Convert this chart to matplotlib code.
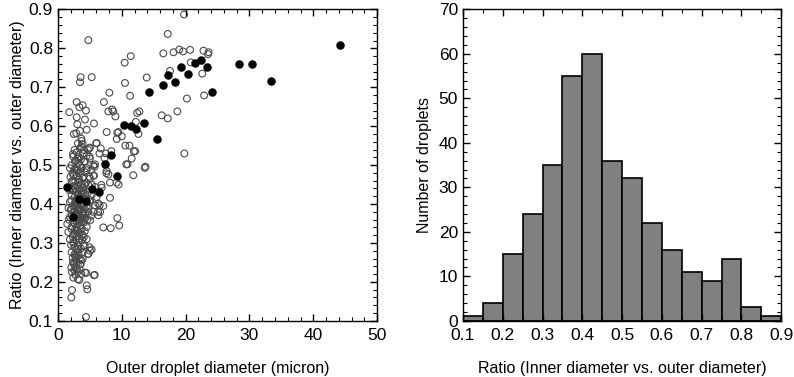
import matplotlib
matplotlib.use("Agg")
import matplotlib.pyplot as plt
from matplotlib.ticker import MultipleLocator

plt.rcParams.update({
    "font.family": ["Liberation Sans", "DejaVu Sans"],
    "font.size": 11.5, "axes.labelsize": 11.5,
    "xtick.labelsize": 12.5, "ytick.labelsize": 12.5,
})

# open circles: (outer diameter, ratio)
open_pts = [
    (4.76, 0.821), (19.75, 0.887), (17.2, 0.837), (11.4, 0.78), (10.45, 0.763), (16.5, 0.787),
    (18.1, 0.79), (19.0, 0.797), (19.6, 0.792), (20.7, 0.796), (22.8, 0.794), (23.6, 0.79),
    (23.5, 0.785), (20.8, 0.764), (17.55, 0.742), (22.6, 0.735), (13.9, 0.725), (22.9, 0.679),
    (20.2, 0.671), (18.7, 0.638), (16.25, 0.628), (17.2, 0.62), (19.8, 0.53),
    (10.5, 0.711), (11.3, 0.678), (12.75, 0.638), (12.2, 0.611), (12.6, 0.58), (11.2, 0.55),
    (11.9, 0.535), (11.55, 0.517), (10.7, 0.502), (13.7, 0.496), (9.2, 0.567), (9.3, 0.583),
    (8.5, 0.643), (8.67, 0.638), (9.0, 0.625), (7.9, 0.638), (7.2, 0.662), (8.05, 0.686),
    (5.28, 0.726), (3.55, 0.726), (3.45, 0.713), (2.93, 0.662), (3.87, 0.654), (3.35, 0.649),
    (1.78, 0.636), (2.93, 0.623), (4.39, 0.64), (3.03, 0.605), (4.23, 0.617), (5.64, 0.607),
    (4.5, 0.591), (3.45, 0.588), (2.5, 0.58), (7.63, 0.585), (9.46, 0.585), (6.06, 0.557),
    (6.7, 0.543), (7.5, 0.53), (8.36, 0.536), (10.0, 0.574), (10.55, 0.55), (5.0, 0.545),
    (5.8, 0.502), (7.63, 0.485), (12.4, 0.634), (12.1, 0.536), (3.66, 0.568), (3.13, 0.556),
    (3.66, 0.548), (2.6, 0.539), (4.7, 0.539), (3.92, 0.53), (2.35, 0.528), (3.24, 0.522),
    (4.96, 0.522), (6.5, 0.53), (7.3, 0.518), (2.87, 0.582), (6.0, 0.556),
    (3.71, 0.562), (3.87, 0.554), (3.45, 0.543), (2.93, 0.533), (2.4, 0.522), (3.03, 0.517),
    (3.97, 0.53), (4.5, 0.524), (5.0, 0.517), (4.23, 0.509), (3.45, 0.5), (2.67, 0.509),
    (2.14, 0.5), (1.88, 0.492), (2.93, 0.487), (4.5, 0.492), (4.9, 0.543), (4.08, 0.539),
    (10.9, 0.502), (13.6, 0.493), (11.8, 0.474), (7.9, 0.476), (8.15, 0.455), (9.2, 0.455),
    (6.85, 0.442), (8.15, 0.416), (7.1, 0.395), (6.6, 0.38), (6.32, 0.371), (9.3, 0.364),
    (9.6, 0.345), (7.1, 0.34), (8.26, 0.338), (5.02, 0.28), (5.28, 0.283), (4.76, 0.272),
    (5.64, 0.217), (4.5, 0.191), (4.6, 0.181), (2.2, 0.179), (2.09, 0.16), (4.39, 0.11),
    (4.23, 0.224), (3.35, 0.205), (2.4, 0.211), (2.93, 0.233), (3.55, 0.246), (2.4, 0.25),
    (3.87, 0.259), (2.67, 0.267), (2.14, 0.276), (3.19, 0.285), (3.97, 0.293), (2.4, 0.302),
    (1.88, 0.309), (3.35, 0.312), (4.5, 0.31), (1.62, 0.328), (2.14, 0.336), (2.93, 0.332),
    (3.71, 0.336), (4.5, 0.341), (1.46, 0.349), (2.4, 0.354), (3.45, 0.358), (4.23, 0.362),
    (5.02, 0.358), (1.88, 0.367), (2.93, 0.371), (3.97, 0.375), (4.76, 0.38), (5.54, 0.38),
    (2.14, 0.388), (3.19, 0.39), (4.5, 0.393), (5.8, 0.397), (1.88, 0.405), (2.67, 0.404),
    (3.71, 0.401), (5.02, 0.405), (6.32, 0.401), (2.14, 0.423), (3.19, 0.424), (4.23, 0.427),
    (5.28, 0.423), (6.06, 0.418), (1.78, 0.436), (2.67, 0.44), (3.71, 0.442), (4.76, 0.449),
    (5.8, 0.444), (2.14, 0.457), (3.19, 0.462), (3.97, 0.468), (5.02, 0.466), (5.54, 0.473),
    (2.4, 0.474), (3.45, 0.483), (4.5, 0.487), (2.93, 0.496), (5.54, 0.499),
    (5.75, 0.218), (3.13, 0.207), (3.66, 0.22), (4.44, 0.223), (2.6, 0.229), (3.4, 0.233),
    (2.09, 0.237), (2.35, 0.25), (3.66, 0.255), (2.87, 0.263), (3.13, 0.276), (4.7, 0.272),
    (4.96, 0.289), (4.18, 0.293), (2.6, 0.289),
    (9.5, 0.45), (6.8, 0.449), (6.53, 0.397), (6.27, 0.38), (7.58, 0.479), (5.64, 0.473),
    (5.22, 0.487), (5.75, 0.496),
    (2.5, 0.352), (2.9, 0.357), (3.3, 0.351), (3.7, 0.355), (4.1, 0.353), (3.0, 0.362),
    (3.5, 0.366), (2.7, 0.369), (4.0, 0.364), (3.2, 0.374), (3.8, 0.377), (2.6, 0.381),
    (3.0, 0.385), (3.4, 0.383), (4.2, 0.386), (2.8, 0.392), (3.6, 0.396), (3.1, 0.399),
    (4.0, 0.398), (2.4, 0.394), (3.3, 0.407), (2.9, 0.411), (3.9, 0.414), (2.6, 0.418),
    (3.5, 0.419), (4.3, 0.421), (3.1, 0.426), (2.8, 0.431), (3.7, 0.433), (3.3, 0.438),
    (4.0, 0.442), (2.5, 0.446), (3.0, 0.448), (3.6, 0.451), (4.4, 0.455), (2.7, 0.459),
    (3.3, 0.463), (3.9, 0.468), (2.9, 0.472), (3.5, 0.478), (4.2, 0.482), (3.1, 0.486),
    (2.6, 0.489), (3.7, 0.493), (3.2, 0.505), (2.8, 0.512), (3.6, 0.515), (4.1, 0.509),
    (2.2, 0.342), (2.7, 0.336), (3.1, 0.331), (3.6, 0.337), (4.2, 0.33), (2.4, 0.322),
    (3.0, 0.318), (3.4, 0.325), (3.9, 0.32), (2.8, 0.309), (3.3, 0.302), (3.8, 0.307),
    (2.5, 0.297), (3.2, 0.291), (2.9, 0.282), (3.6, 0.286), (2.6, 0.271), (3.3, 0.268),
    (2.8, 0.258), (3.5, 0.245), (2.7, 0.238), (3.1, 0.226),
    (4.6, 0.36), (4.8, 0.39), (4.7, 0.43), (5.2, 0.37), (5.0, 0.41), (2.2, 0.37),
    (2.1, 0.41), (2.0, 0.44), (2.3, 0.48), (4.9, 0.47), (5.3, 0.45), (3.45, 0.345),
    (3.85, 0.395), (2.75, 0.405), (3.35, 0.455), (3.95, 0.43), (2.95, 0.34), (3.55, 0.405),
    (4.25, 0.375), (3.15, 0.415), (3.75, 0.365), (2.45, 0.435), (4.45, 0.405), (3.05, 0.375),
    (3.65, 0.425),
    (2.3, 0.262), (2.55, 0.245), (2.9, 0.25), (3.4, 0.258), (2.2, 0.225), (2.75, 0.218),
    (3.85, 0.275), (4.05, 0.315), (2.05, 0.295), (2.35, 0.315), (2.65, 0.325), (1.7, 0.36),
    (1.65, 0.39), (2.0, 0.385), (3.25, 0.44), (2.35, 0.46), (4.15, 0.45), (1.95, 0.47),
]
open_x = [p[0] for p in open_pts]
open_y = [p[1] for p in open_pts]

# filled circles
filled_x = [1.46, 2.4, 3.34, 4.4, 5.4, 6.5, 7.37, 8.3, 9.3, 10.3, 11.4, 12.3, 13.4, 14.3,
            15.5, 16.4, 17.3, 18.3, 19.3, 20.4, 21.4, 22.4, 23.3, 24.2, 28.4, 30.4, 33.3, 44.2]
filled_y = [0.444, 0.367, 0.414, 0.407, 0.438, 0.431, 0.502, 0.526, 0.473, 0.602, 0.600,
            0.594, 0.607, 0.687, 0.567, 0.707, 0.732, 0.714, 0.752, 0.734, 0.762, 0.771,
            0.752, 0.689, 0.761, 0.759, 0.715, 0.809]

# histogram
bin_left = [0.10, 0.15, 0.20, 0.25, 0.30, 0.35, 0.40, 0.45, 0.50, 0.55, 0.60, 0.65, 0.70, 0.75, 0.80, 0.85]
counts = [1, 4, 15, 24, 35, 55, 60, 36, 32, 22, 16, 11, 9, 14, 3, 1]

fig = plt.figure(figsize=(7.94, 3.77), dpi=100)
ax1 = fig.add_axes([0.073, 0.149, 0.402, 0.826])
ax2 = fig.add_axes([0.583, 0.149, 0.401, 0.826])

ax1.scatter(open_x, open_y, s=24, facecolors="none", edgecolors="#4a4a4a", linewidths=0.8)
ax1.scatter(filled_x, filled_y, s=26, color="black", zorder=3)
ax1.set_xlim(0, 50)
ax1.set_ylim(0.1, 0.9)
ax1.xaxis.set_major_locator(MultipleLocator(10))
ax1.xaxis.set_minor_locator(MultipleLocator(2))
ax1.yaxis.set_major_locator(MultipleLocator(0.1))
ax1.yaxis.set_minor_locator(MultipleLocator(0.02))
ax1.set_xlabel("Outer droplet diameter (micron)", labelpad=13)
ax1.set_ylabel("Ratio (Inner diameter vs. outer diameter)", labelpad=3)

ax2.bar(bin_left, counts, width=0.05, align="edge", color="#808080",
        edgecolor="black", linewidth=1.2)
ax2.set_xlim(0.1, 0.9)
ax2.set_ylim(0, 70)
ax2.xaxis.set_major_locator(MultipleLocator(0.1))
ax2.xaxis.set_minor_locator(MultipleLocator(0.05))
ax2.yaxis.set_major_locator(MultipleLocator(10))
ax2.yaxis.set_minor_locator(MultipleLocator(2))
ax2.set_xlabel("Ratio (Inner diameter vs. outer diameter)", labelpad=13)
ax2.set_ylabel("Number of droplets", labelpad=5)

for ax in (ax1, ax2):
    ax.tick_params(which="both", direction="in", top=True, right=True)
    ax.tick_params(which="major", length=5, width=1)
    ax.tick_params(which="minor", length=3, width=0.8)
    ax.tick_params(axis="x", which="major", pad=5)
    for sp in ax.spines.values():
        sp.set_linewidth(1)

ax1.yaxis.set_major_formatter(plt.FuncFormatter(lambda v, p: f"{v:.1f}"))
ax2.xaxis.set_major_formatter(plt.FuncFormatter(lambda v, p: f"{v:.1f}"))

fig.savefig("out.png", dpi=100)
